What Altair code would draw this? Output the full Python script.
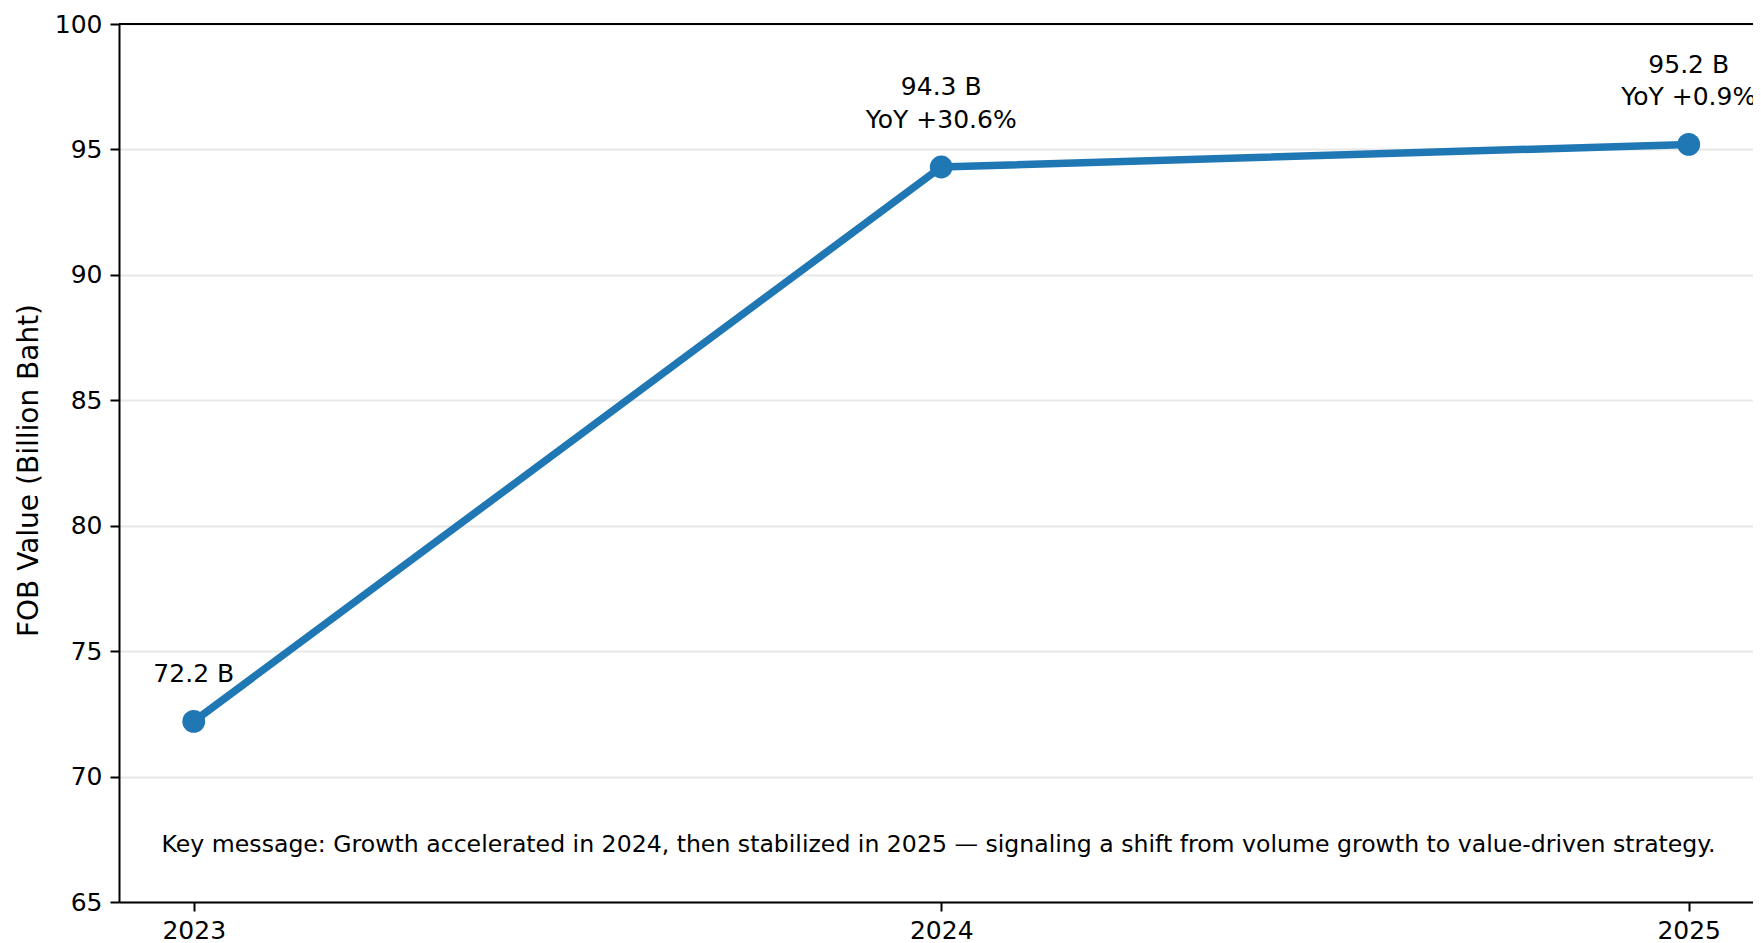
import altair as alt
import pandas as pd

years = [2023, 2024, 2025]
values = [72.2, 94.3, 95.2]
label_upper = ["", "94.3 B", "95.2 B"]
label_lower = ["72.2 B", "YoY +30.6%", "YoY +0.9%"]
y_ticks = [65, 70, 75, 80, 85, 90, 95, 100]
note = "Key message: Growth accelerated in 2024, then stabilized in 2025 \u2014 signaling a shift from volume growth to value-driven strategy."

df = pd.DataFrame({"year": years, "value": values,
                   "upper": label_upper, "lower": label_lower})

W, H = 1634, 878
FONT = "DejaVu Sans"
BLUE = "#1f77b4"

x = alt.X("year:Q",
          scale=alt.Scale(domain=[2022.9, 2025.086], nice=False, zero=False),
          axis=alt.Axis(values=years, format="d", title=None, grid=False,
                        labelFontSize=25, labelFont=FONT, labelColor="#000",
                        tickSize=9, tickWidth=2, tickColor="#000",
                        labelPadding=7, domainColor="#000", domainWidth=2,
                        labelFlush=False))
y = alt.Y("value:Q",
          scale=alt.Scale(domain=[65, 100], nice=False, zero=False),
          axis=alt.Axis(values=y_ticks, format="d",
                        title="FOB Value (Billion Baht)",
                        titleFont=FONT, titleFontSize=28, titleFontWeight="normal",
                        titleColor="#000", titleX=-90, titleY=H / 2 + 7,
                        titleBaseline="middle",
                        labelFontSize=25, labelFont=FONT, labelColor="#000",
                        tickSize=9, tickWidth=2, tickColor="#000",
                        labelPadding=8, domainColor="#000", domainWidth=2,
                        grid=True, gridColor="#b0b0b0", gridOpacity=0.3,
                        gridWidth=2, labelFlush=False))

base = alt.Chart(df)

line = base.mark_line(color=BLUE, strokeWidth=7.5).encode(x=x, y=y)
points = base.mark_circle(color=BLUE, size=520, opacity=1).encode(x=x, y=y)
text_lower = base.mark_text(font=FONT, fontSize=25, color="#000", align="center",
                            baseline="alphabetic", dy=-39).encode(
    x=x, y=y, text="lower:N")
text_upper = base.mark_text(font=FONT, fontSize=25, color="#000", align="center",
                            baseline="alphabetic", dy=-71.5).encode(
    x=x, y=y, text="upper:N")

top_rule = alt.Chart(df).mark_rule(color="#000", strokeWidth=2).encode(
    x=alt.value(0), x2=alt.value(W), y=alt.value(0))

note_df = pd.DataFrame({"t": [note]})
note_text = alt.Chart(note_df).mark_text(font=FONT, fontSize=23.6, color="#000",
                                         align="center", baseline="alphabetic").encode(
    x=alt.value(W * 0.5 + 2.5), y=alt.value(H * 0.9435), text="t:N")

chart = alt.layer(line, points, text_lower, text_upper, top_rule, note_text).properties(
    width=W, height=H,
    autosize=alt.AutoSizeParams(type="none"),
    padding={"left": 111, "top": 16, "right": 0, "bottom": 45},
).configure_view(stroke=None).configure(background="white")

chart.save("out.html", embed_options={"renderer": "svg", "actions": False})
